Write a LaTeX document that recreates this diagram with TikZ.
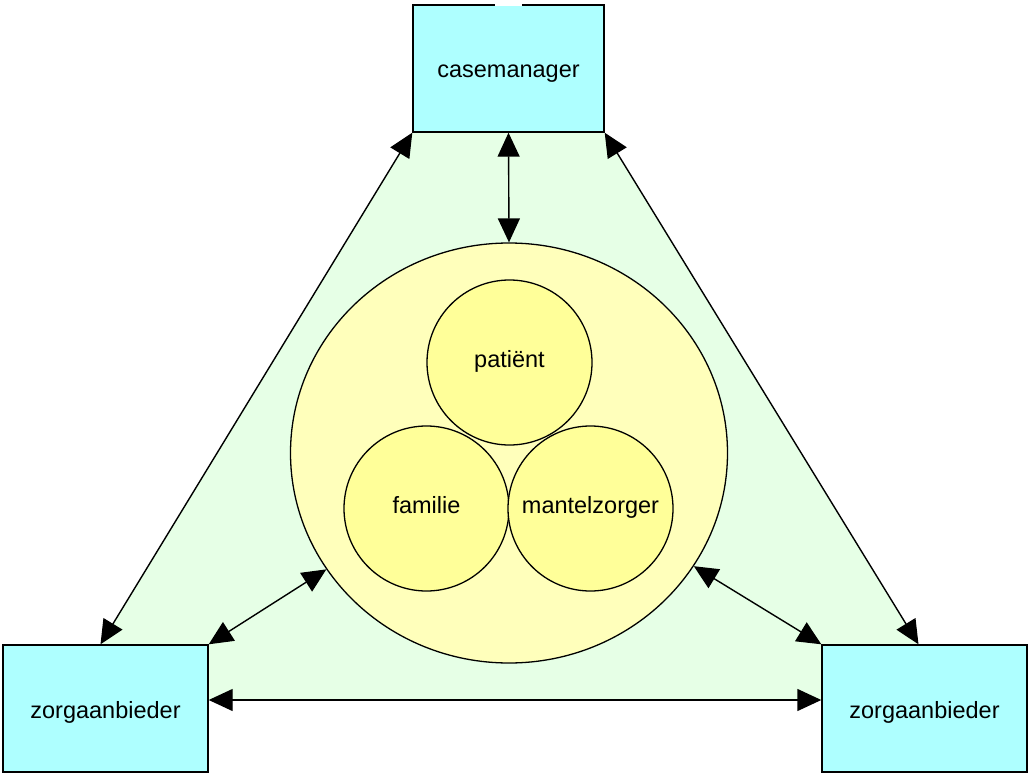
\documentclass[tikz,border=0pt]{standalone}
\usepackage{fontspec}
\setmainfont{Liberation Sans}
\usetikzlibrary{arrows.meta,calc,shapes.geometric}
\definecolor{boxcyan}{HTML}{AEFFFF}
\definecolor{greenfill}{HTML}{E6FFE6}
\definecolor{bigyellow}{HTML}{FFFFBB}
\definecolor{smallyellow}{HTML}{FFFF99}
\tikzset{
  actor/.style={draw=black, line width=1.4pt, fill=boxcyan, minimum width=191pt, minimum height=127pt, inner sep=0pt, text height=24pt, text depth=5pt, font=\fontsize{23.5}{28}\selectfont},
  member/.style={circle, draw=black, line width=1.3pt, fill=smallyellow, minimum size=165pt, inner sep=0pt, text height=15pt, text depth=6pt, font=\fontsize{23.5}{28}\selectfont},
  tipend/.tip={Triangle[length=24pt 0 1,width=22pt 0 1]},
  link/.style={line width=1.4pt, tipend-tipend}
}
\begin{document}
\begin{tikzpicture}[x=1pt,y=-1pt]
\useasboundingbox (0,0) rectangle (1028,773);
% green background area
\fill[greenfill] (413,132) -- (604,132) -- (918,645) -- (822,645) -- (822,700) -- (208,700) -- (208,645) -- (100,645) -- cycle;
% big circle
\node[ellipse, draw=black, line width=1.3pt, fill=bigyellow, minimum width=437pt, minimum height=420pt, inner sep=0pt] (big) at (509,453) {};
\node[member] (pat) at (509.5,362.5) {patiënt};
\node[member] (fam) at (426.5,508.5) {familie};
\node[member] (man) at (590.5,508.5) {mantelzorger};
% boxes
\node[actor] (cm) at (508.5,68.5) {casemanager};
\node[actor, minimum width=205pt] (lb) at (105.5,708.5) {zorgaanbieder};
\node[actor, minimum width=205pt] (rb) at (924.5,708.5) {zorgaanbieder};
\draw[white, line width=2pt] (495,5) -- (522,5);
% connectors
\draw[link] (cm.south west) -- ([xshift=-5pt]lb.north);
\draw[link] (cm.south east) -- ([xshift=-6pt]rb.north);
\draw[link] (cm.south) -- (big.north);
\draw[link] (lb.north east) -- (big);
\draw[link] (rb.north west) -- (big);
\draw[link] ([yshift=8.5pt]lb.east) -- ([yshift=8.5pt]rb.west);
\end{tikzpicture}
\end{document}
